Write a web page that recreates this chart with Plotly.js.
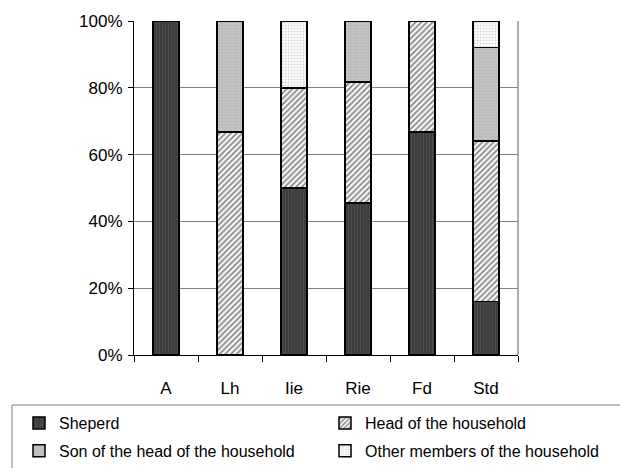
<!DOCTYPE html>
<html><head><meta charset="utf-8">
<script src="https://cdn.plot.ly/plotly-3.0.1.min.js"></script>
<style>html,body{margin:0;padding:0;background:#fff}</style>
</head><body>
<div id="chart" style="width:620px;height:468px"></div>
<script>
const categories = ["A", "Lh", "Iie", "Rie", "Fd", "Std"];
const sheperd = [100, 0, 50, 45.5, 66.7, 16];
const headOfHousehold = [0, 66.7, 30, 36.3, 33.3, 48];
const sonOfHead = [0, 33.3, 0, 18.2, 0, 28];
const otherMembers = [0, 0, 20, 0, 0, 8];
const yTickVals = [0, 20, 40, 60, 80, 100];
const yTickText = ["0%", "20%", "40%", "60%", "80%", "100%"];

const FONT = "Liberation Sans, Arial, sans-serif";
const line = {color: "#000", width: 1.5};
function tr(name, y, pattern, legend) {
  return {type: "bar", name: name, x: categories, y: y, legend: legend, legendgroup: name,
    marker: {color: pattern.bgcolor, line: line, pattern: pattern},
    hoverinfo: "skip"};
}
const data = [
  tr("Sheperd", sheperd, {shape: "|", bgcolor: "#3c3c3c", fgcolor: "#606060", size: 3, solidity: 0.35, fillmode: "overlay"}, "legend"),
  tr("Head of the household", headOfHousehold, {shape: "/", bgcolor: "#ffffff", fgcolor: "#222222", size: 4, solidity: 0.5, fillmode: "overlay"}, "legend2"),
  tr("Son of the head of the household", sonOfHead, {shape: ".", bgcolor: "#c4c4c4", fgcolor: "#a8a8a8", size: 3, solidity: 0.4, fillmode: "overlay"}, "legend"),
  tr("Other members of the household", otherMembers, {shape: ".", bgcolor: "#ffffff", fgcolor: "#b0b0b0", size: 3, solidity: 0.4, fillmode: "overlay"}, "legend2")
];
const legendBase = {orientation: "v", xref: "container", yref: "container",
  y: 0.1325, xanchor: "left", yanchor: "top", traceorder: "grouped",
  tracegroupgap: 4, bgcolor: "rgba(0,0,0,0)", borderwidth: 0, itemwidth: 30,
  font: {family: FONT, size: 16}};
const layout = {
  width: 620, height: 468,
  margin: {l: 134, r: 102, t: 21, b: 113, autoexpand: false},
  barmode: "stack", bargap: 0.59,
  paper_bgcolor: "#fff", plot_bgcolor: "#fff",
  font: {family: FONT, size: 17, color: "#000"},
  showlegend: true,
  xaxis: {type: "category", showline: true, linecolor: "#000", linewidth: 1,
    ticks: "outside", tickson: "boundaries", ticklen: 6, tickcolor: "#000",
    ticklabelstandoff: 18, showgrid: false, tickfont: {family: FONT, size: 17}},
  yaxis: {range: [0, 100], tickvals: yTickVals, ticktext: yTickText,
    showline: true, linecolor: "#000", linewidth: 1,
    ticks: "outside", ticklen: 5, tickcolor: "#000", ticklabelstandoff: 2,
    showgrid: true, gridcolor: "#808080", gridwidth: 1, zeroline: false,
    tickfont: {family: FONT, size: 17}},
  legend: Object.assign({}, legendBase, {x: 19 / 620}),
  legend2: Object.assign({}, legendBase, {x: 325 / 620}),
  shapes: [
    {type: "line", xref: "paper", yref: "paper", x0: 1, x1: 1, y0: 0, y1: 1,
      line: {color: "#909090", width: 1.5}, layer: "below"},
    {type: "rect", xref: "paper", yref: "paper",
      x0: (12 - 134) / 384, x1: (640 - 134) / 384,
      y0: -(480 - 355) / 334, y1: -(405 - 355) / 334,
      line: {color: "#808080", width: 1}, fillcolor: "rgba(0,0,0,0)"}
  ]
};
Plotly.newPlot("chart", data, layout, {displayModeBar: false, staticPlot: true});
</script>
</body></html>
